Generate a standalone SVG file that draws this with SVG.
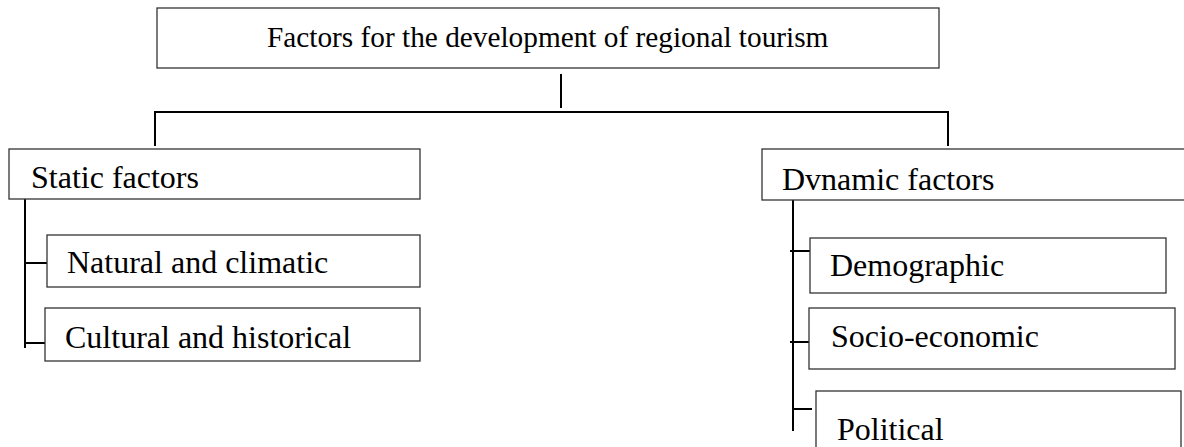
<svg xmlns="http://www.w3.org/2000/svg" width="1184" height="447" viewBox="0 0 1184 447">
<style>
.box{fill:#fff;stroke:#333;stroke-width:1.3}
.t{font-size:32px;fill:#000}
.title{font-size:29.3px}
.c{stroke:#000;stroke-width:2;fill:none}
</style>
<rect width="1184" height="447" fill="#fff"/>
<g id="connectors">
<path class="c" d="M561 74V108"/>
<path class="c" d="M155 112H949M155 111V146M948 111V146"/>
<path class="c" d="M25 199V348M24 263H47M24 343H45"/>
<path class="c" d="M793 200V431M790 251H810M790 342H809M792 409H812"/>
</g>
<g font-family="'Liberation Serif', 'Times New Roman', 'DejaVu Serif', serif">
<g id="n-root"><rect class="box" x="157" y="8" width="782" height="60"/><text class="t title" x="267" y="47">Factors for the development of regional tourism</text></g>
<g id="n-static"><rect class="box" x="9" y="149" width="411" height="50"/><text class="t" x="31" y="188">Static factors</text></g>
<g id="n-natural"><rect class="box" x="47" y="235" width="373" height="52"/><text class="t" x="67" y="273">Natural and climatic</text></g>
<g id="n-cultural"><rect class="box" x="45" y="308" width="375" height="53"/><text class="t" x="65" y="348">Cultural and historical</text></g>
<g id="n-dynamic"><rect class="box" x="762" y="149" width="440" height="51"/><text class="t" x="782" y="190">Dvnamic factors</text></g>
<g id="n-demographic"><rect class="box" x="810" y="238" width="356" height="55"/><text class="t" x="830" y="276">Demographic</text></g>
<g id="n-socio"><rect class="box" x="809" y="308" width="366" height="61"/><text class="t" x="831" y="347">Socio-economic</text></g>
<g id="n-political"><rect class="box" x="816" y="391" width="365" height="70"/><text class="t" x="837" y="440">Political</text></g>
</g>
</svg>
